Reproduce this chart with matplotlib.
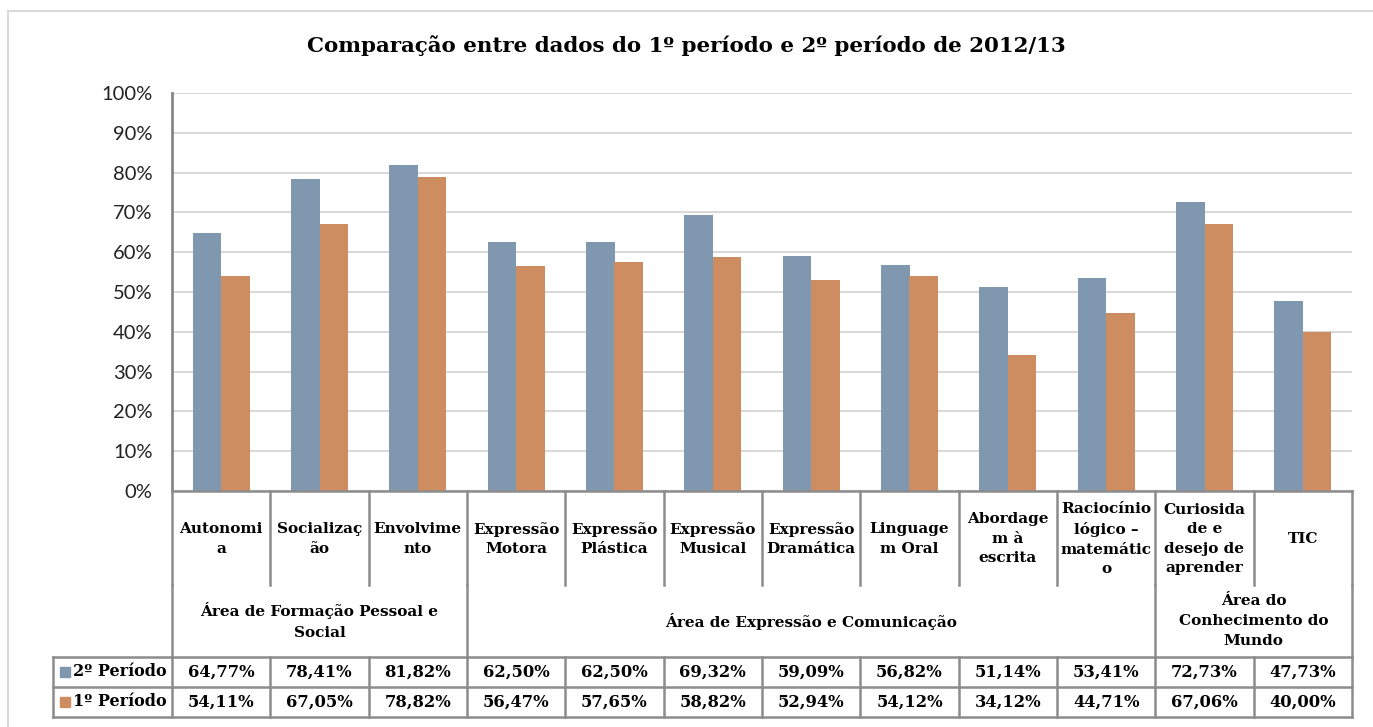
import matplotlib
matplotlib.use("Agg")
import matplotlib.pyplot as plt
from matplotlib.lines import Line2D
from matplotlib.patches import Rectangle

title = "Comparação entre dados do 1º período e 2º período de 2012/13"
categories = ["Autonomi\na", "Socializaç\não", "Envolvime\nnto", "Expressão\nMotora",
              "Expressão\nPlástica", "Expressão\nMusical", "Expressão\nDramática",
              "Linguage\nm Oral", "Abordage\nm à\nescrita", "Raciocínio\nlógico –\nmatemátic\no",
              "Curiosida\nde e\ndesejo de\naprender", "TIC"]
groups = ["Área de Formação Pessoal e\nSocial", "Área de Expressão e Comunicação",
          "Área do\nConhecimento do\nMundo"]
group_spans = [(0, 2), (3, 9), (10, 11)]
series_names = ["2º Período", "1º Período"]
periodo2 = [64.77, 78.41, 81.82, 62.50, 62.50, 69.32, 59.09, 56.82, 51.14, 53.41, 72.73, 47.73]
periodo1 = [54.11, 67.05, 78.82, 56.47, 57.65, 58.82, 52.94, 54.12, 34.12, 44.71, 67.06, 40.00]
yticks = [0, 10, 20, 30, 40, 50, 60, 70, 80, 90, 100]
colors = ["#7F97AF", "#CD8D61"]

W, H = 1373, 727
fig = plt.figure(figsize=(W / 100, H / 100), dpi=100)
fig.patch.set_facecolor("white")

x0, x1, ytop, ybot = 172, 1352, 93, 491
ax = fig.add_axes([x0 / W, (H - ybot) / H, (x1 - x0) / W, (ybot - ytop) / H])

serif = ["DejaVu Serif"]
n = len(categories)
xs = list(range(n))
bw = 0.29
ax.bar([x - bw / 2 for x in xs], periodo2, width=bw, color=colors[0], zorder=3)
ax.bar([x + bw / 2 for x in xs], periodo1, width=bw, color=colors[1], zorder=3)
ax.set_xlim(-0.5, n - 0.5)
ax.set_ylim(0, 100)
ax.set_yticks(yticks)
ax.set_yticklabels([f"{t}%" for t in yticks], fontsize=14.5, family=["Lato", "DejaVu Sans"], color="#222222")
ax.tick_params(axis="y", length=0, pad=14)
ax.tick_params(axis="x", length=0, labelbottom=False)
ax.grid(axis="y", color="#D9D9D9", linewidth=1.5, zorder=0)
for s in ["top", "right", "bottom"]:
    ax.spines[s].set_visible(False)
ax.spines["left"].set_color("#868686")
ax.spines["left"].set_linewidth(2)

fig.text(0.5, 1 - 46 / H, title, ha="center", va="center", fontsize=15.4,
         fontweight="bold", family=serif)

tr = fig.transFigure
def px(x):
    return x / W
def py(y):
    return 1 - y / H
lc = "#8C8C8C"
lw = 1.8
def line(xa, ya, xb, yb):
    fig.add_artist(Line2D([px(xa), px(xb)], [py(ya), py(yb)], color=lc, lw=lw, transform=tr))

cw = (x1 - x0) / n
bounds = [x0 + i * cw for i in range(n + 1)]
y_hdr_end, y_grp_end, y_r1, y_r2 = 585, 657, 687, 717
xleg = 53
line(x0, ybot, x1, ybot)
for i, b in enumerate(bounds):
    line(b, ybot, b, y_hdr_end)
    line(b, y_grp_end, b, y_r2)
line(x0, y_hdr_end, x0, y_grp_end)
line(x1, y_hdr_end, x1, y_grp_end)
for a, b in group_spans[:-1]:
    line(bounds[b + 1], y_hdr_end, bounds[b + 1], y_grp_end)
for yy in (y_grp_end, y_r1, y_r2):
    line(xleg, yy, x1, yy)
line(xleg, y_grp_end, xleg, y_r2)

fs = 11
for i, c in enumerate(categories):
    fig.text(px((bounds[i] + bounds[i + 1]) / 2), py(539), c, ha="center", va="center",
             fontsize=fs, fontweight="bold", family=serif, linespacing=1.5)
for g, (a, b) in zip(groups, group_spans):
    fig.text(px((bounds[a] + bounds[b + 1]) / 2), py(621), g, ha="center", va="center",
             fontsize=fs, fontweight="bold", family=serif, linespacing=1.55)
rows = [periodo2, periodo1]
centers = [(y_grp_end + y_r1) / 2, (y_r1 + y_r2) / 2]
for r, (vals, yc) in enumerate(zip(rows, centers)):
    for i, v in enumerate(vals):
        fig.text(px((bounds[i] + bounds[i + 1]) / 2), py(yc), f"{v:.2f}%".replace(".", ","),
                 ha="center", va="center", fontsize=11.8, fontweight="bold", family=serif)
    fig.add_artist(Rectangle((px(60), py(yc + 5)), 10 / W, 10 / H, color=colors[r], transform=tr))
    fig.text(px(73), py(yc), series_names[r], ha="left", va="center", fontsize=11.5,
             fontweight="bold", family=serif)

fig.add_artist(Line2D([px(7.5), px(W)], [py(10.5), py(10.5)], color="#D9D9D9", lw=1.5, transform=tr))
fig.add_artist(Line2D([px(7.5), px(7.5)], [py(10.5), py(H)], color="#D9D9D9", lw=1.5, transform=tr))

fig.savefig("out.png", dpi=100, facecolor="white")
